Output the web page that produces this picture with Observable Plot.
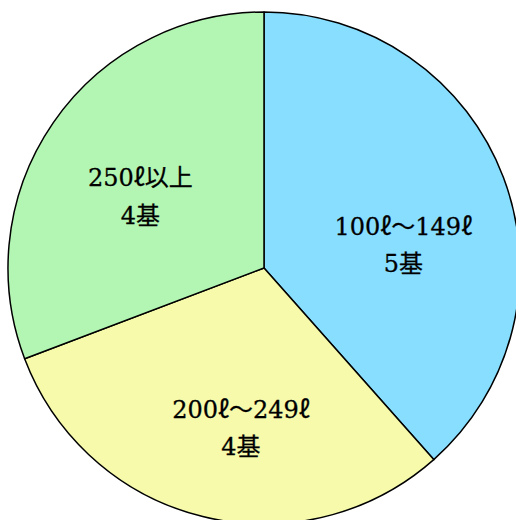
<!DOCTYPE html>
<html>
<head>
<meta charset="utf-8">
<script src="https://cdn.jsdelivr.net/npm/d3@7"></script>
<script src="https://cdn.jsdelivr.net/npm/@observablehq/plot@0.6"></script>
<style>
  html, body { margin: 0; padding: 0; background: #fff; overflow: hidden; }
</style>
</head>
<body>
<div id="chart"></div>
<script>
const categories = ["100ℓ〜149ℓ", "200ℓ〜249ℓ", "250ℓ以上"];
const counts = [5, 4, 4];
const countLabels = ["5基", "4基", "4基"];
const colors = ["#88DEFF", "#F6FAAA", "#B3F6B3"];

const pie = d3.pie().sort(null).value(d => d.count)(
  categories.map((c, i) => ({category: c, count: counts[i], label: countLabels[i], color: colors[i]}))
);
const slices = pie.map(p => {
  const mid = (p.startAngle + p.endAngle) / 2;
  const r = 0.58;
  return {...p.data, startAngle: p.startAngle, endAngle: p.endAngle,
    lx: r * Math.sin(mid), ly: r * Math.cos(mid),
    text: p.data.category + "\n" + p.data.label};
});
const nudges = [[0, 26], [12, 12], [-2, 9]];

function pieMark(index, scales) {
  const cx = scales.x(0), cy = scales.y(0);
  const R = scales.x(1) - scales.x(0);
  const arc = d3.arc().innerRadius(0).outerRadius(R);
  const g = d3.create("svg:g").attr("transform", `translate(${cx},${cy})`);
  g.selectAll("path").data(slices).join("path")
    .attr("d", d => arc(d))
    .attr("fill", d => d.color)
    .attr("stroke", "#000")
    .attr("stroke-width", 1.5)
    .attr("stroke-linejoin", "round");
  return g.node();
}

const chart = Plot.plot({
  width: 516,
  height: 520,
  margin: 0,
  x: {domain: [-1, 1], range: [8, 520], axis: null},
  y: {domain: [-1, 1], range: [524, 12], axis: null},
  style: {background: "#fff"},
  marks: [
    pieMark,
    ...slices.map((s, i) => Plot.text([s], {
      x: "lx", y: "ly", text: "text",
      dx: nudges[i][0], dy: nudges[i][1],
      fontSize: 24, lineHeight: 1.55,
      fontFamily: "'DejaVu Serif', 'Noto Sans CJK JP', serif",
      fill: "#000", stroke: "#000", strokeWidth: 0.3
    }))
  ]
});
document.getElementById("chart").appendChild(chart);
</script>
</body>
</html>
